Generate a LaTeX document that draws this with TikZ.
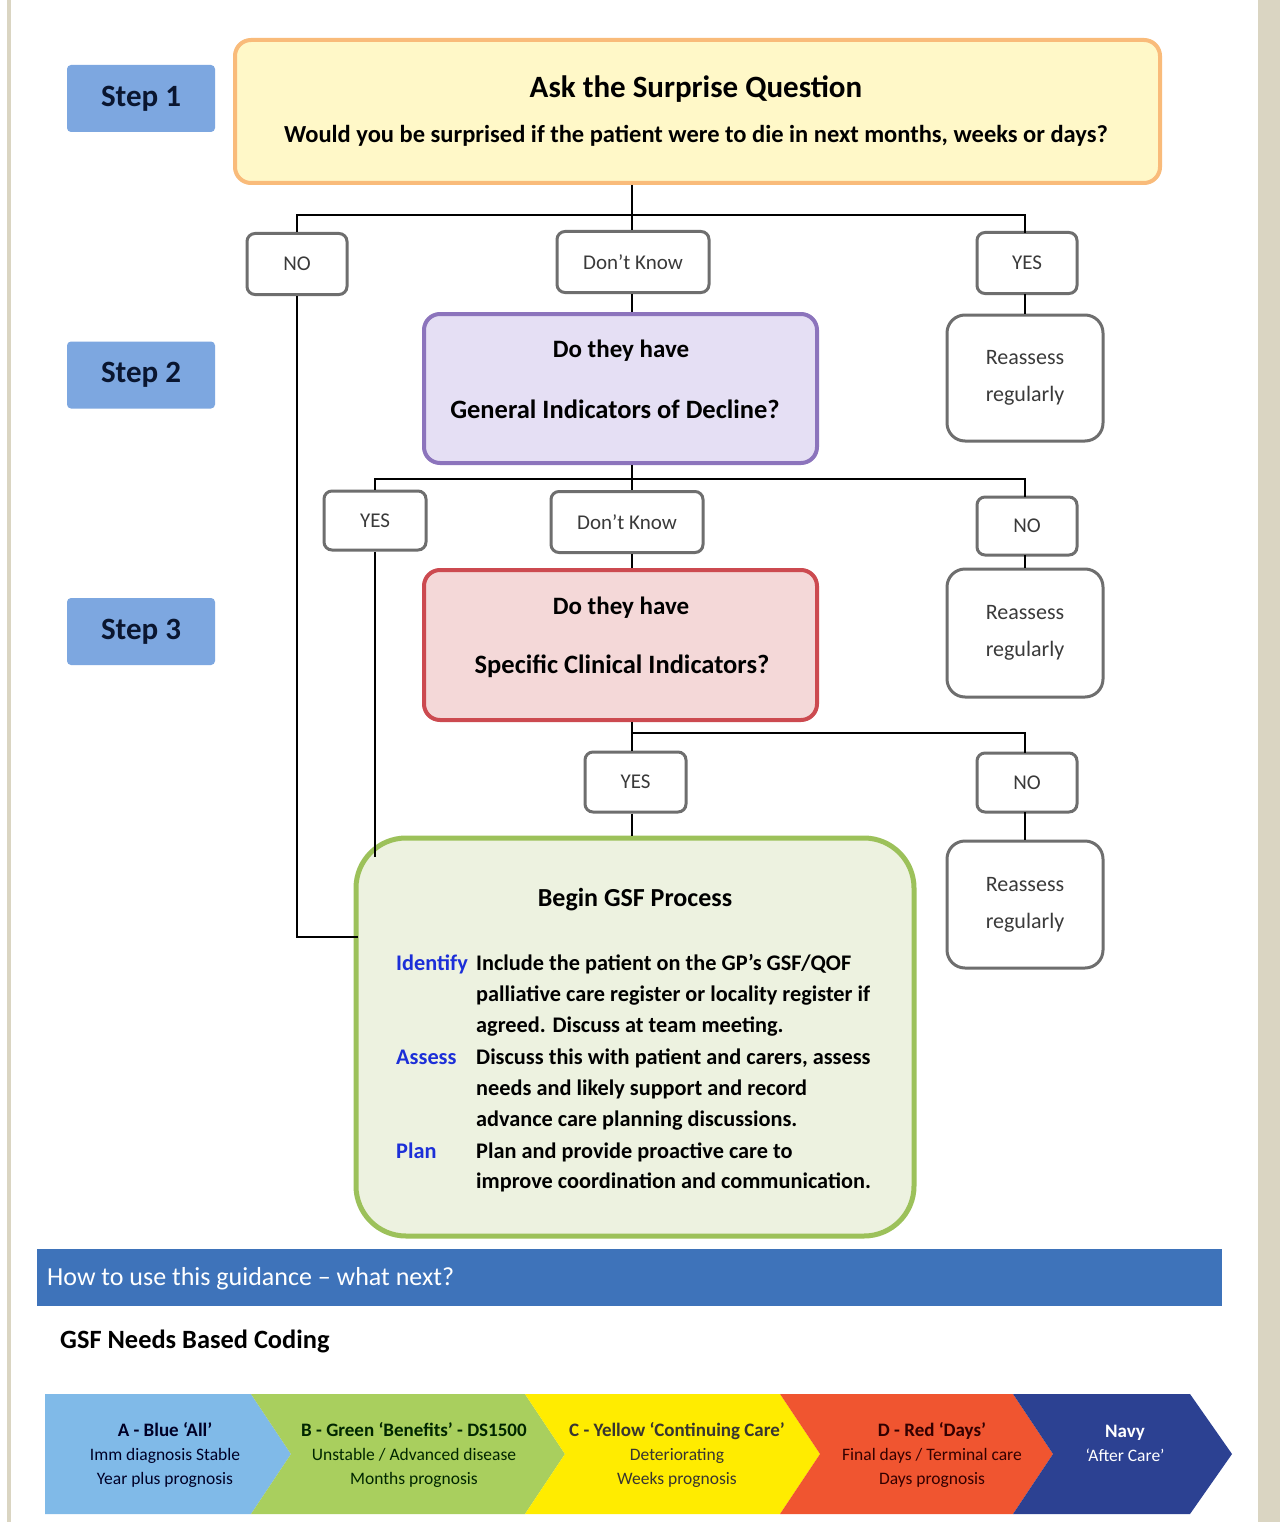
\documentclass[tikz,border=0pt]{standalone}
\usepackage{fontspec}
\setmainfont{Carlito}
\definecolor{beige}{HTML}{DAD5C2}
\definecolor{stepblue}{HTML}{7DA7E0}
\definecolor{stepnavy}{HTML}{0A1630}
\definecolor{qfill}{HTML}{FFF8C8}
\definecolor{qdraw}{HTML}{F9BB7A}
\definecolor{pfill}{HTML}{E5DFF4}
\definecolor{pdraw}{HTML}{8C74BC}
\definecolor{rfill}{HTML}{F4D8D8}
\definecolor{rdraw}{HTML}{CC4A50}
\definecolor{gfill}{HTML}{EDF2E0}
\definecolor{gdraw}{HTML}{9CC15A}
\definecolor{boxgray}{HTML}{6E6E6E}
\definecolor{txtgray}{HTML}{3A3A3A}
\definecolor{lblue}{HTML}{1C2FD8}
\definecolor{bannerblue}{HTML}{3E73BA}
\definecolor{chA}{HTML}{80BAE8}
\definecolor{chB}{HTML}{A9CF5E}
\definecolor{chC}{HTML}{FFEC00}
\definecolor{chD}{HTML}{F05530}
\definecolor{chE}{HTML}{2C4192}
\begin{document}
\begin{tikzpicture}[x=1pt,y=-1pt,
  stepbox/.style={fill=stepblue, rounded corners=4pt, minimum width=148pt, minimum height=67pt, inner sep=0pt, text=stepnavy, font=\fontsize{31}{37}\selectfont\bfseries},
  bigbox/.style={rounded corners=16pt, line width=4pt, inner sep=0pt},
  ansbox/.style={draw=boxgray, fill=white, line width=3pt, rounded corners=8pt, inner sep=0pt, minimum height=61pt, text=txtgray, font=\fontsize{21}{25}\selectfont},
  reassbox/.style={draw=boxgray, fill=white, line width=3pt, rounded corners=18pt, inner sep=0pt, minimum width=156pt, minimum height=126pt, text=txtgray, align=center, font=\fontsize{22}{37}\selectfont},
  conn/.style={draw=black, line width=1.5pt},
  qtitle/.style={inner sep=0pt, font=\fontsize{25}{30}\selectfont\bfseries},
  qtitleb/.style={inner sep=0pt, font=\fontsize{26.5}{31}\selectfont\bfseries},
  body/.style={inner sep=0pt, anchor=west, text height=15pt, text depth=5pt, font=\fontsize{22.3}{26}\selectfont\bfseries},
  lbl/.style={body, text=lblue},
  chtext/.style={inner sep=0pt, align=center, font=\fontsize{17.5}{24}\selectfont}
]
\useasboundingbox (0,0) rectangle (1280,1522);
\fill[white] (0,0) rectangle (1280,1522);
\fill[beige] (7,0) rectangle (11,1522);
\fill[beige] (1258,0) rectangle (1280,1522);

% steps
\node[stepbox] (s1) at (141,98.5) {Step 1};
\node[stepbox] (s2) at (141,375) {Step 2};
\node[stepbox] (s3) at (141,631.5) {Step 3};

% surprise question
\node[bigbox, draw=qdraw, fill=qfill, minimum width=925pt, minimum height=143pt] (q) at (697.5,111.5) {};
\node[inner sep=0pt, font=\fontsize{31}{37}\selectfont\bfseries] (qt1) at (696,89) {Ask the Surprise Question};
\node[inner sep=0pt, font=\fontsize{24.5}{29}\selectfont\bfseries] (qt2) at (696,136) {Would you be surprised if the patient were to die in next months, weeks or days?};

% level 1 answers
\node[ansbox, minimum width=100pt] (no1) at (297,264) {NO};
\node[ansbox, minimum width=152pt] (dk1) at (633,262) {Don’t Know};
\node[ansbox, minimum width=100pt] (yes1) at (1027,263) {YES};
\node[reassbox] (ra1) at (1025,378) {Reassess\\regularly};

% general indicators
\node[bigbox, draw=pdraw, fill=pfill, minimum width=393pt, minimum height=149pt] (gi) at (620.5,388.5) {};
\node[qtitle] (gi1) at (621,351) {Do they have};
\node[qtitleb] (gi2) at (615,409) {General Indicators of Decline?};

% level 2 answers
\node[ansbox, minimum width=102pt, minimum height=59pt] (yes2) at (375,520.5) {YES};
\node[ansbox, minimum width=152pt] (dk2) at (627,522) {Don’t Know};
\node[ansbox, minimum width=100pt, minimum height=58pt] (no2) at (1027,526) {NO};
\node[reassbox, minimum height=128pt] (ra2) at (1025,633) {Reassess\\regularly};

% specific indicators
\node[bigbox, draw=rdraw, fill=rfill, minimum width=393pt, minimum height=150pt] (sc) at (620.5,645) {};
\node[qtitle] (sc1) at (621,608) {Do they have};
\node[qtitleb] (sc2) at (622,666) {Specific Clinical Indicators?};

% level 3 answers
\node[ansbox, minimum width=101pt, minimum height=60pt] (yes3) at (635.5,782) {YES};
\node[ansbox, minimum width=100pt, minimum height=59pt] (no3) at (1027,782.5) {NO};
\node[reassbox, minimum height=127pt] (ra3) at (1025,904.5) {Reassess\\regularly};

% GSF box
\node[draw=gdraw, fill=gfill, line width=5pt, rounded corners=50pt, inner sep=0pt, minimum width=558pt, minimum height=398pt] (gsf) at (635,1037) {};
\node[inner sep=0pt, font=\fontsize{26}{30}\selectfont\bfseries] (gt) at (635,900) {Begin GSF Process};
\node[lbl] (li) at (396,965) {Identify};
\node[lbl] (la) at (396,1059) {Assess};
\node[lbl] (lp) at (396,1153) {Plan};
\node[body] (b1) at (476,965) {Include the patient on the GP’s GSF/QOF};
\node[body] (b2) at (476,996) {palliative care register or locality register if};
\node[body] (b3) at (476,1027) {agreed. Discuss at team meeting.};
\node[body] (b4) at (476,1059) {Discuss this with patient and carers, assess};
\node[body] (b5) at (476,1090) {needs and likely support and record};
\node[body] (b6) at (476,1121) {advance care planning discussions.};
\node[body] (b7) at (476,1153) {Plan and provide proactive care to};
\node[body] (b8) at (476,1183) {improve coordination and communication.};

% connectors
\coordinate (bar1) at (632,215);
\coordinate (bar2) at (632,479);
\coordinate (bar3) at (632,733);
\coordinate (noend) at (358,937);
\coordinate (yesend) at (375,857);
\draw[conn] (q.south -| bar1) -- (dk1.north -| bar1);
\draw[conn] (no1.north) |- (bar1) -| (1025,233);
\draw[conn] (dk1.south -| bar1) -- (gi.north -| bar1);
\draw[conn] (1025,294) -- (ra1.north);
\draw[conn] (no1.south) |- (noend);
\draw[conn] (gi.south -| bar2) -- (dk2.north -| bar2);
\draw[conn] (yes2.north) |- (bar2) -| (1025,497);
\draw[conn] (dk2.south -| bar2) -- (sc.north -| bar2);
\draw[conn] (1025,555) -- (ra2.north);
\draw[conn] (yes2.south) -- (yesend);
\draw[conn] (sc.south -| bar3) -- (yes3.north -| bar3);
\draw[conn] (bar3) -| (1025,753);
\draw[conn] (yes3.south -| bar3) -- (gsf.north -| bar3);
\draw[conn] (1025,812) -- (ra3.north);

% banner
\node[fill=bannerblue, inner sep=0pt, minimum width=1185pt, minimum height=57pt] (ban) at (629.5,1277.5) {};
\node[inner sep=0pt, anchor=west, text=white, font=\fontsize{26}{30}\selectfont] (bant) at (47,1279) {How to use this guidance – what next?};
\node[inner sep=0pt, anchor=west, font=\fontsize{26.4}{30}\selectfont\bfseries] (code) at (60,1341) {GSF Needs Based Coding};

% chevrons
\fill[chA] (45,1394) -- (251,1394) -- (291,1454) -- (251,1514) -- (45,1514) -- cycle;
\fill[chB] (251,1394) -- (525,1394) -- (565,1454) -- (525,1514) -- (251,1514) -- (291,1454) -- cycle;
\fill[chC] (525,1394) -- (780,1394) -- (820,1454) -- (780,1514) -- (525,1514) -- (565,1454) -- cycle;
\fill[chD] (780,1394) -- (1013,1394) -- (1053,1454) -- (1013,1514) -- (780,1514) -- (820,1454) -- cycle;
\fill[chE] (1013,1394) -- (1190,1394) -- (1232,1454) -- (1190,1514) -- (1013,1514) -- (1053,1454) -- cycle;
\node[chtext, text=black!85!blue] (ca) at (165,1455) {{\fontsize{19}{24}\selectfont\bfseries A - Blue ‘All’}\\Imm diagnosis Stable\\Year plus prognosis};
\node[chtext, text=black!85!green] (cb) at (414,1455) {{\fontsize{19}{24}\selectfont\bfseries B - Green ‘Benefits’ - DS1500}\\Unstable / Advanced disease\\Months prognosis};
\node[chtext, text=black!90!yellow] (cc) at (677,1455) {{\fontsize{19}{24}\selectfont\bfseries C - Yellow ‘Continuing Care’}\\Deteriorating\\Weeks prognosis};
\node[chtext, text=black!80!red] (cd) at (932,1455) {{\fontsize{19}{24}\selectfont\bfseries D - Red ‘Days’}\\Final days / Terminal care\\Days prognosis};
\node[chtext, text=white] (ce) at (1125,1443) {{\fontsize{19}{24}\selectfont\bfseries Navy}\\‘After Care’};
\end{tikzpicture}
\end{document}
